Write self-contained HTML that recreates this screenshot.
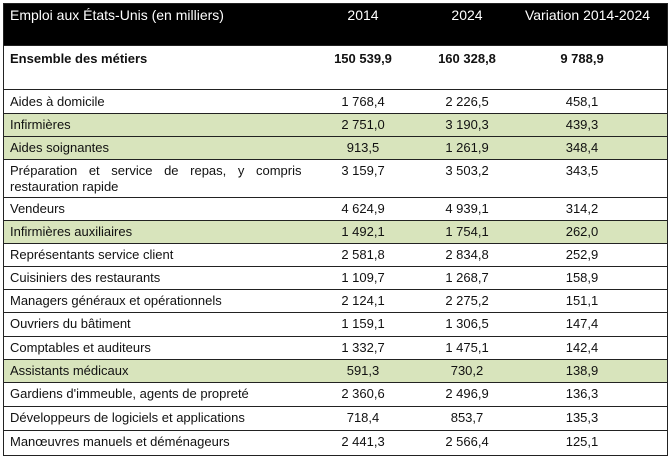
<!DOCTYPE html>
<html><head><meta charset="utf-8"><style>
body{margin:0;width:672px;height:460px;background:#fff;font-family:"Liberation Sans",sans-serif;font-size:13px;color:#111;position:relative;overflow:hidden}
.r{position:absolute;left:3px;width:664px;border-top:1px solid #222;box-sizing:border-box}
.g{background:#d8e4bc}
.t{position:absolute;left:7px;white-space:nowrap}
.c{position:absolute;width:100px;text-align:center;white-space:nowrap}
.a{left:310px}.b{left:414px}.v{left:529px}
#frame{position:absolute;left:3px;top:3px;width:665px;height:453px;border:1px solid #222;box-sizing:border-box;pointer-events:none}
#hd{position:absolute;left:3px;top:3px;width:665px;height:42px;background:#000;color:#fff;font-size:14px}
</style></head><body>
<div id="hd"><span class="t" style="top:4px">Emploi aux États-Unis (en milliers)</span><span class="c a" style="top:4px">2014</span><span class="c b" style="top:4px">2024</span><span class="c v" style="top:4px;left:512px;width:145px">Variation 2014-2024</span></div>
<div class="r" style="top:45px;height:44px;font-weight:bold"><span class="t" style="top:5px">Ensemble des métiers</span><span class="c a" style="top:5px">150 539,9</span><span class="c b" style="top:5px">160 328,8</span><span class="c v" style="top:5px">9 788,9</span></div>
<div class="r" style="top:89px;height:24px"><span class="t" style="top:4px">Aides à domicile</span><span class="c a" style="top:4px">1 768,4</span><span class="c b" style="top:4px">2 226,5</span><span class="c v" style="top:4px">458,1</span></div>
<div class="r g" style="top:113px;height:23px"><span class="t" style="top:3px">Infirmières</span><span class="c a" style="top:3px">2 751,0</span><span class="c b" style="top:3px">3 190,3</span><span class="c v" style="top:3px">439,3</span></div>
<div class="r g" style="top:136px;height:23px"><span class="t" style="top:3px">Aides soignantes</span><span class="c a" style="top:3px">913,5</span><span class="c b" style="top:3px">1 261,9</span><span class="c v" style="top:3px">348,4</span></div>
<div class="r" style="top:159px;height:38px"><span class="t" style="top:3px;word-spacing:8px">Préparation et service de repas, y compris</span><span class="t" style="top:19px">restauration rapide</span><span class="c a" style="top:3px">3 159,7</span><span class="c b" style="top:3px">3 503,2</span><span class="c v" style="top:3px">343,5</span></div>
<div class="r" style="top:197px;height:23px"><span class="t" style="top:3px">Vendeurs</span><span class="c a" style="top:3px">4 624,9</span><span class="c b" style="top:3px">4 939,1</span><span class="c v" style="top:3px">314,2</span></div>
<div class="r g" style="top:220px;height:23px"><span class="t" style="top:3px">Infirmières auxiliaires</span><span class="c a" style="top:3px">1 492,1</span><span class="c b" style="top:3px">1 754,1</span><span class="c v" style="top:3px">262,0</span></div>
<div class="r" style="top:243px;height:23px"><span class="t" style="top:3px">Représentants service client</span><span class="c a" style="top:3px">2 581,8</span><span class="c b" style="top:3px">2 834,8</span><span class="c v" style="top:3px">252,9</span></div>
<div class="r" style="top:266px;height:23px"><span class="t" style="top:3px">Cuisiniers des restaurants</span><span class="c a" style="top:3px">1 109,7</span><span class="c b" style="top:3px">1 268,7</span><span class="c v" style="top:3px">158,9</span></div>
<div class="r" style="top:289px;height:23px"><span class="t" style="top:3px">Managers généraux et opérationnels</span><span class="c a" style="top:3px">2 124,1</span><span class="c b" style="top:3px">2 275,2</span><span class="c v" style="top:3px">151,1</span></div>
<div class="r" style="top:312px;height:24px"><span class="t" style="top:3px">Ouvriers du bâtiment</span><span class="c a" style="top:3px">1 159,1</span><span class="c b" style="top:3px">1 306,5</span><span class="c v" style="top:3px">147,4</span></div>
<div class="r" style="top:336px;height:23px"><span class="t" style="top:3px">Comptables et auditeurs</span><span class="c a" style="top:3px">1 332,7</span><span class="c b" style="top:3px">1 475,1</span><span class="c v" style="top:3px">142,4</span></div>
<div class="r g" style="top:359px;height:23px"><span class="t" style="top:3px">Assistants médicaux</span><span class="c a" style="top:3px">591,3</span><span class="c b" style="top:3px">730,2</span><span class="c v" style="top:3px">138,9</span></div>
<div class="r" style="top:382px;height:24px"><span class="t" style="top:3px">Gardiens d'immeuble, agents de propreté</span><span class="c a" style="top:3px">2 360,6</span><span class="c b" style="top:3px">2 496,9</span><span class="c v" style="top:3px">136,3</span></div>
<div class="r" style="top:406px;height:24px"><span class="t" style="top:3px">Développeurs de logiciels et applications</span><span class="c a" style="top:3px">718,4</span><span class="c b" style="top:3px">853,7</span><span class="c v" style="top:3px">135,3</span></div>
<div class="r" style="top:430px;height:26px"><span class="t" style="top:3px">Manœuvres manuels et déménageurs</span><span class="c a" style="top:3px">2 441,3</span><span class="c b" style="top:3px">2 566,4</span><span class="c v" style="top:3px">125,1</span></div>
<div id="frame"></div>
</body></html>
